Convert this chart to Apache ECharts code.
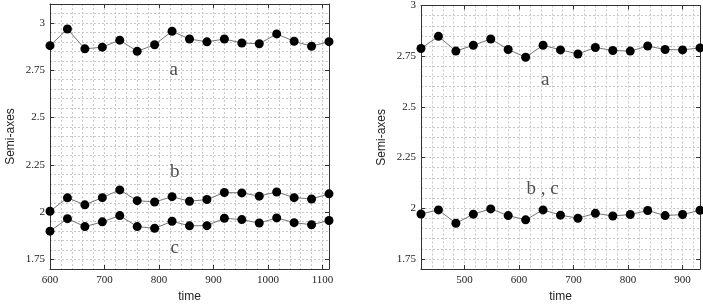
<!DOCTYPE html>
<html>
<head>
<meta charset="utf-8">
<script src="https://cdn.jsdelivr.net/npm/echarts@6/dist/echarts.min.js"></script>
<style>html,body{margin:0;padding:0;background:#fff;}#c{width:703px;height:308px;}</style>
</head>
<body>
<div id="c"></div>
<script>
// Left panel
const timeL = [600,632,664,696,728,760,792,824,856,888,920,952,984,1016,1048,1080,1112];
const aL = [2.880,2.968,2.863,2.872,2.909,2.850,2.885,2.956,2.915,2.900,2.915,2.894,2.890,2.942,2.903,2.877,2.901];
const bL = [2.005,2.076,2.039,2.077,2.118,2.061,2.054,2.082,2.058,2.067,2.104,2.102,2.085,2.107,2.077,2.070,2.097];
const cL = [1.900,1.966,1.924,1.949,1.982,1.924,1.915,1.952,1.928,1.929,1.968,1.961,1.943,1.970,1.945,1.934,1.956];
// Right panel
const timeR = [420,452,484,516,548,580,612,644,676,708,740,772,804,836,868,900,932];
const aR = [2.788,2.848,2.775,2.804,2.835,2.783,2.745,2.804,2.781,2.761,2.793,2.778,2.775,2.800,2.783,2.781,2.791];
const bcR = [1.972,1.992,1.926,1.971,1.997,1.964,1.943,1.992,1.966,1.951,1.975,1.962,1.969,1.989,1.964,1.969,1.990];
// Tick labels
const yTicks = [1.75,2,2.25,2.5,2.75,3];
const xTicksL = [600,700,800,900,1000,1100];
const xTicksR = [500,600,700,800,900];
// Curve labels [x, y, text]
const labelsL = [[827,2.753,'a'],[829,2.213,'b'],[829,1.811,'c']];
const labelsR = [[648,2.632,'a'],[643,2.093,'b , c']];

const serif = '"Liberation Serif","DejaVu Serif",serif';
const sans = '"Liberation Sans",Arial,sans-serif';
const ink = '#222';
const gridLine = {show:true, lineStyle:{color:'#c8c8c8', type:[2,2], width:1}};

// kind: 'main' (labels+grid, bottom), 'tick' (ticks only, bottom), 'opp' (top border + ticks)
function xAx(gi, min, max, ticks, kind){
  const main = kind === 'main';
  return {
    type:'value', gridIndex:gi, min:min, max:max, interval:20,
    position: kind === 'opp' ? 'top' : 'bottom',
    name: main ? 'time' : '', nameLocation:'middle', nameGap:20,
    nameTextStyle:{fontFamily:sans, fontSize:12, color:ink},
    axisLine:{show:kind !== 'tick', onZero:false, lineStyle:{color:'#333', width:1}},
    axisTick: main ? {show:false} :
      {show:true, inside:true, length:4, customValues:ticks, lineStyle:{color:'#333'}},
    axisLabel: main ? {show:true, margin:6, fontFamily:serif, fontSize:11, color:ink,
      formatter:v=>(ticks.indexOf(Math.round(v)) >= 0 ? String(Math.round(v)) : '')} : {show:false},
    splitLine: main ? gridLine : {show:false}
  };
}
function yAx(gi, min, max, kind){
  const main = kind === 'main';
  return {
    type:'value', gridIndex:gi, min:min, max:max, interval:0.05,
    position: kind === 'opp' ? 'right' : 'left',
    name: main ? 'Semi-axes' : '', nameLocation:'middle', nameGap:33,
    nameTextStyle:{fontFamily:sans, fontSize:12, color:ink},
    axisLine:{show:kind !== 'tick', onZero:false, lineStyle:{color:'#333', width:1}},
    axisTick: main ? {show:false} :
      {show:true, inside:true, length:4, customValues:yTicks, lineStyle:{color:'#333'}},
    axisLabel: main ? {show:true, margin:5, fontFamily:serif, fontSize:11, color:ink,
      formatter:v=>{const r=Math.round(v*100)/100; return yTicks.indexOf(r) >= 0 ? String(r) : '';}} : {show:false},
    splitLine: main ? gridLine : {show:false}
  };
}
function lineS(xi, yi, xs, ys){
  return {
    type:'line', xAxisIndex:xi, yAxisIndex:yi, data:xs.map((x,i)=>[x,ys[i]]),
    symbol:'circle', symbolSize:9, showSymbol:true,
    itemStyle:{color:'#000'}, lineStyle:{color:'#777', width:1}, animation:false, z:3
  };
}
function textS(xi, yi, arr){
  return {
    type:'scatter', xAxisIndex:xi, yAxisIndex:yi, symbolSize:1, itemStyle:{color:'rgba(0,0,0,0)'},
    data:arr.map(d=>({value:[d[0],d[1]], label:{formatter:d[2]}})),
    label:{show:true, position:'inside', fontFamily:serif, fontSize:19, color:ink},
    animation:false, silent:true
  };
}

const chart = echarts.init(document.getElementById('c'), null, {renderer:'canvas'});
chart.setOption({
  backgroundColor:'#fff',
  animation:false,
  grid:[
    {left:50, right:374, top:4, bottom:39},
    {left:421, right:3, top:5, bottom:38}
  ],
  xAxis:[
    xAx(0, 600, 1112, xTicksL, 'main'),
    xAx(0, 600, 1112, xTicksL, 'tick'),
    xAx(0, 600, 1112, xTicksL, 'opp'),
    xAx(1, 420, 932, xTicksR, 'main'),
    xAx(1, 420, 932, xTicksR, 'tick'),
    xAx(1, 420, 932, xTicksR, 'opp')
  ],
  yAxis:[
    yAx(0, 1.7, 3.1, 'main'),
    yAx(0, 1.7, 3.1, 'tick'),
    yAx(0, 1.7, 3.1, 'opp'),
    yAx(1, 1.7, 3.0, 'main'),
    yAx(1, 1.7, 3.0, 'tick'),
    yAx(1, 1.7, 3.0, 'opp')
  ],
  series:[
    lineS(0,0,timeL,aL), lineS(0,0,timeL,bL), lineS(0,0,timeL,cL),
    textS(0,0,labelsL),
    lineS(3,3,timeR,aR), lineS(3,3,timeR,bcR),
    textS(3,3,labelsR)
  ]
});
</script>
</body>
</html>
